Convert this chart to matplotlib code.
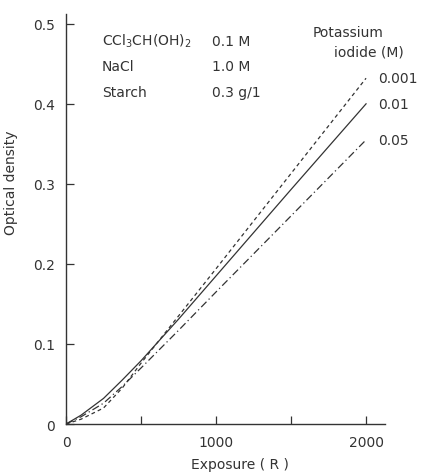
import matplotlib.pyplot as plt
import numpy as np

# exposure (R) and optical density
exposure = [0, 100, 250, 375, 500, 750, 1000, 1500, 2000]
od_0001 = [0, 0.006, 0.020, 0.045, 0.076, 0.135, 0.194, 0.313, 0.432]
od_001 = [0, 0.011, 0.032, 0.055, 0.079, 0.131, 0.185, 0.293, 0.400]
od_005 = [0, 0.009, 0.026, 0.047, 0.070, 0.117, 0.165, 0.260, 0.355]
ki_labels = ['0.001', '0.01', '0.05']

conditions = ['CCl$_3$CH(OH)$_2$', 'NaCl', 'Starch']
amounts = ['0.1 M', '1.0 M', '0.3 g/1']

ink = '#333333'
plt.rcParams['font.family'] = 'DejaVu Sans'
plt.rcParams['font.size'] = 10

fig = plt.figure(figsize=(4.26, 4.77), dpi=100)
ax = fig.add_axes([0.155, 0.109, 0.749, 0.86])

ax.plot(exposure, od_0001, color=ink, lw=0.9, ls=(0, (3, 2.5)))
ax.plot(exposure, od_001, color=ink, lw=0.9, ls='-')
ax.plot(exposure, od_005, color=ink, lw=0.9, ls=(0, (6, 2.5, 1, 2.5)))

for lab, ys in zip(ki_labels, [od_0001, od_001, od_005]):
    ax.text(exposure[-1] + 80, ys[-1], lab, color=ink, va='center', ha='left')

ax.text(1880, 0.49, 'Potassium', color=ink, ha='center', va='center')
ax.text(2020, 0.465, 'iodide (M)', color=ink, ha='center', va='center')

for i, (c, a) in enumerate(zip(conditions, amounts)):
    y = 0.479 - i * 0.032
    ax.text(240, y, c, color=ink, va='center')
    ax.text(975, y, a, color=ink, va='center')

ax.set_xlim(0, 2127)
ax.set_ylim(0, 0.5125)
ax.set_xticks([0, 500, 1000, 1500, 2000])
ax.set_xticklabels(['0', '', '1000', '', '2000'])
ax.set_yticks([0, 0.1, 0.2, 0.3, 0.4, 0.5])
ax.set_yticklabels(['0', '0.1', '0.2', '0.3', '0.4', '0.5'])
ax.tick_params(direction='in', length=6, width=0.9, colors=ink, pad=8)
ax.set_xlabel('Exposure ( R )', color=ink)
ax.xaxis.set_label_coords(0.545, -0.08)
ax.set_ylabel('Optical density', color=ink)
ax.yaxis.set_label_coords(-0.15, 0.59)

for s in ['top', 'right']:
    ax.spines[s].set_visible(False)
for s in ['left', 'bottom']:
    ax.spines[s].set_color(ink)
    ax.spines[s].set_linewidth(1.0)

fig.savefig('out.png', dpi=100)
